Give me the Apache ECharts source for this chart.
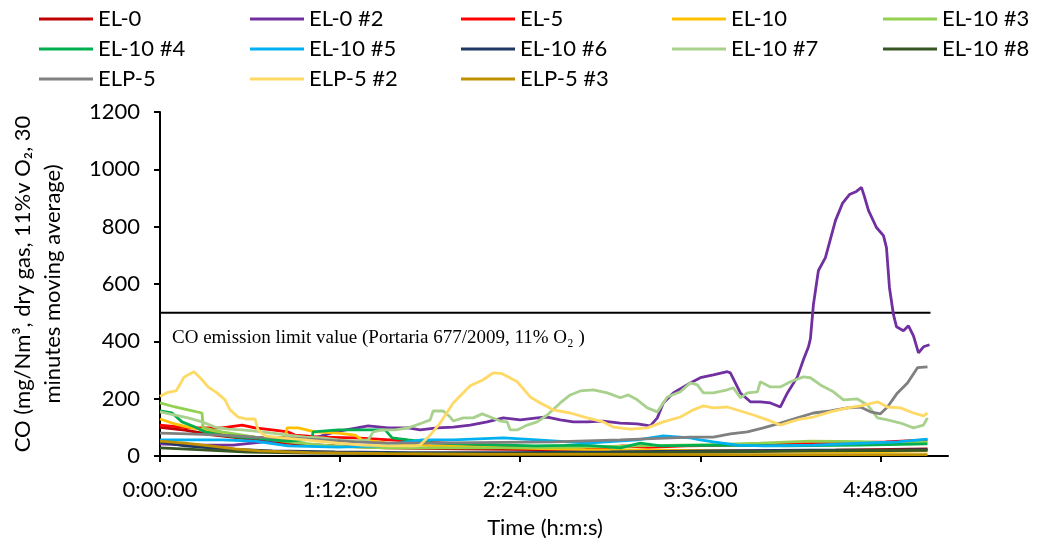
<!DOCTYPE html>
<html>
<head>
<meta charset="utf-8">
<script src="https://cdn.jsdelivr.net/npm/echarts@6/dist/echarts.min.js"></script>
<style>
  html, body { margin: 0; padding: 0; background: #fff; }
  #chart { width: 1037px; height: 545px; }
</style>
</head>
<body>
<div id="chart"></div>
<script>
// CO concentration, 30-minute moving average, per test run.
// Each point: [elapsed time in minutes, CO in mg/Nm3].
const EL_0 = [[0,100],[10,90],[20,75],[35,60],[50,45],[70,35],[90,28],[120,25],[150,22],[180,20],[210,18],[240,18],[270,20],[306.8,25]];
const EL_0_2 = [[0,42],[11.2,38],[29.2,38],[49.2,56],[58.8,66],[62,63],[70,84],[83.2,105],[91.2,98],[99.2,98],[104,91],[110.8,98],[117.2,101],[124,108],[130.8,119],[137.2,133],[144,126],[150.8,133],[154.8,136],[160,126],[165.2,119],[170.8,119],[177.2,122],[184,115],[190.8,112],[196,105],[198.8,133],[201.2,185],[205.2,220],[212,255],[216,273],[221.2,283],[226.8,294],[228,290],[232,220],[236,189],[240,189],[244,185],[248,171],[250.8,220],[254.8,276],[257.2,336],[259.2,380],[260,409],[261.2,528],[263.2,647],[266,692],[270,821],[272.8,881],[275.6,912],[278.4,923],[280.4,937],[281.6,905],[283.2,857],[286.4,797],[289.2,769],[290.4,727],[291.6,587],[293.2,493],[294.4,451],[297.2,437],[299.2,454],[301.2,419],[303.2,360],[305.2,381],[307.6,388]];
const EL_5 = [[0,108],[11.2,98],[24.8,98],[32.8,108],[38,98],[44.8,91],[51.2,84],[54,73],[64,66],[78,63],[92,56],[104.8,49],[120,42],[140,35],[160,28],[175,25],[185,35],[195,30],[210,35],[230,38],[250,42],[270,45],[290,49],[306.8,56]];
const EL_10 = [[0,129],[4.8,115],[11.2,101],[18,91],[24.8,80],[31.2,73],[38,66],[44.8,63],[50,66],[50.8,98],[55.2,98],[62,84],[71.2,80],[78,73],[80.8,56],[91.2,45],[110,35],[140,28],[170,22],[200,20],[230,18],[260,15],[290,15],[306.8,18]];
const EL_10_3 = [[0,185],[6,171],[11.2,161],[16.8,150],[17.2,98],[24.8,84],[38,66],[51.2,49],[64.8,38],[78,31],[91.2,28],[106,28],[130,28],[160,30],[190,35],[220,40],[240,45],[260,52],[280,50],[295,45],[306.8,49]];
const EL_10_4 = [[0,157],[4.8,150],[8.8,119],[14,101],[18,84],[24.8,73],[31.2,66],[38,63],[44.8,56],[51.2,52],[58,56],[60.8,66],[61.2,84],[71.2,91],[84.8,91],[90,91],[92.8,63],[99.2,56],[110,45],[130,40],[150,35],[170,38],[184,28],[192,45],[200,35],[220,38],[250,35],[280,38],[306.8,42]];
const EL_10_5 = [[0,56],[24.8,56],[38,52],[51.2,35],[71.2,31],[88,35],[104.8,56],[117.2,56],[137.2,63],[150.8,56],[170.8,45],[190.8,56],[201.2,70],[212,63],[216,56],[221.2,49],[230.8,38],[241.2,35],[261.2,38],[281.2,45],[294.8,49],[306.8,59]];
const EL_10_6 = [[0,49],[10,35],[25,25],[45,18],[70,14],[100,12],[140,12],[180,14],[220,18],[260,20],[290,20],[306.8,22]];
const EL_10_7 = [[0,154],[6,143],[11.2,133],[16.8,119],[22,101],[27.2,94],[32.8,91],[38,87],[44.8,80],[51.2,73],[58,66],[64.8,63],[71.2,56],[78,52],[83.2,56],[85.2,84],[88.8,91],[94,91],[99.2,98],[104.8,115],[108,126],[109.2,157],[113.2,157],[116,136],[117.2,122],[121.2,133],[125.2,133],[128.8,147],[132,136],[136,122],[138.8,119],[140,91],[142.8,91],[146.8,108],[150.8,119],[154.8,143],[160,185],[164,213],[168,227],[173.2,231],[178.8,220],[184,203],[187.2,213],[190.8,196],[194.8,168],[198.8,154],[202.8,206],[208,224],[212,255],[214.8,248],[217.2,220],[221.2,220],[226.8,231],[229.2,238],[232,203],[234.8,220],[238.8,224],[240,259],[244,241],[248,241],[252,259],[257.2,276],[260,273],[264,248],[269.2,224],[273.2,196],[278.8,199],[282.8,178],[286.8,133],[290.8,126],[296,115],[301.2,98],[305.2,108],[306.8,133]];
const EL_10_8 = [[0,28],[15,22],[35,14],[60,10],[100,8],[140,8],[180,10],[220,14],[260,18],[306.8,20]];
const ELP_5 = [[0,80],[11.2,77],[24.8,73],[38,66],[51.2,63],[64.8,56],[78,49],[91.2,45],[106,45],[157.2,49],[184,56],[212,66],[221.2,66],[228,77],[234.8,84],[241.2,98],[248,115],[254.8,133],[261.2,150],[268,157],[274.8,168],[280,171],[284,154],[288,147],[290.8,171],[294.8,220],[298.8,255],[302.8,308],[306.8,311]];
const ELP_5_2 = [[0,208],[3.2,222],[6.4,227],[8,250],[9.6,275],[11.2,283],[13.6,294],[16.8,266],[19.2,241],[22.8,220],[26,196],[28,161],[31.2,136],[34.8,129],[38,129],[39.2,91],[42,70],[48.8,63],[58,56],[71.2,45],[80.8,38],[91.2,35],[102,35],[104,38],[108,73],[112,115],[117.2,185],[124,245],[129.2,266],[133.2,290],[136.8,287],[142.8,259],[148,206],[152,185],[157.2,161],[164,150],[170.8,133],[177.2,119],[181.2,101],[188,94],[194.8,98],[201.2,119],[208,136],[213.2,161],[217.2,175],[221.2,168],[226.8,171],[232,157],[237.2,143],[242.8,126],[248,108],[252,119],[256,129],[261.2,136],[268,154],[274.8,168],[280,175],[286.8,189],[290.8,171],[296,168],[301.2,150],[305.2,140],[306.8,150]];
const ELP_5_3 = [[0,52],[10,45],[20,35],[30,25],[40,18],[60,12],[90,8],[130,6],[180,6],[230,5],[280,5],[306.8,5]];

// Emission limit value (Portaria 677/2009) and time span it is drawn over
const LIMIT_VALUE = 500;
const LIMIT_SPAN = [0, 308];

const seriesNames = ['EL-0','EL-0 #2','EL-5','EL-10','EL-10 #3','EL-10 #4','EL-10 #5','EL-10 #6','EL-10 #7','EL-10 #8','ELP-5','ELP-5 #2','ELP-5 #3'];
const seriesData = [EL_0, EL_0_2, EL_5, EL_10, EL_10_3, EL_10_4, EL_10_5, EL_10_6, EL_10_7, EL_10_8, ELP_5, ELP_5_2, ELP_5_3];
const seriesColors = ['#C00000','#7030A0','#FF0000','#FFC000','#92D050','#00B050','#00B0F0','#203864','#A9D18E','#375623','#808080','#FFD966','#BF9000'];

// Time ticks every 1:12:00
const timeTicks = [0, 72, 144, 216, 288];

const FONT = 'Lato, "Open Sans", sans-serif';

function hms(min) {
  const totalSec = Math.round(min * 60);
  const h = Math.floor(totalSec / 3600);
  const m = Math.floor((totalSec % 3600) / 60);
  const s = totalSec % 60;
  return h + ':' + String(m).padStart(2, '0') + ':' + String(s).padStart(2, '0');
}

// Legend laid out in five columns
const legendCols = [[0, 5, 10], [1, 6, 11], [2, 7, 12], [3, 8], [4, 9]];
const legendLefts = [39, 250, 461, 672, 883];
const legends = legendCols.map((col, i) => ({
  orient: 'vertical',
  left: legendLefts[i],
  top: 8,
  padding: 0,
  icon: 'rect',
  itemWidth: 54,
  itemHeight: 3,
  itemGap: 8,
  selectedMode: false,
  data: col.map(k => seriesNames[k]),
  textStyle: { fontFamily: FONT, fontSize: 22, color: '#000', lineHeight: 22 }
}));

const series = seriesNames.map((name, i) => ({
  name: name,
  type: 'line',
  data: seriesData[i],
  symbol: 'none',
  smooth: false,
  color: seriesColors[i],
  lineStyle: { width: 2.8, color: seriesColors[i] },
  z: 3
}));

series.push({
  name: 'limit',
  type: 'line',
  data: [[LIMIT_SPAN[0], LIMIT_VALUE], [LIMIT_SPAN[1], LIMIT_VALUE]],
  symbol: 'none',
  color: '#000',
  lineStyle: { width: 2, color: '#000' },
  z: 2
});

const chart = echarts.init(document.getElementById('chart'), null, { renderer: 'canvas' });
chart.setOption({
  animation: false,
  backgroundColor: '#fff',
  legend: legends,
  grid: { left: 160, right: 89, top: 112, bottom: 89, containLabel: false },
  xAxis: {
    type: 'value',
    min: 0,
    max: 315,
    name: 'Time (h:m:s)',
    nameLocation: 'middle',
    nameGap: 61,
    nameTextStyle: { fontFamily: FONT, fontSize: 22, color: '#000', padding: [0, 18, 0, 0] },
    axisLine: { show: true, lineStyle: { color: '#000', width: 2 } },
    axisTick: { show: true, inside: false, length: 6, customValues: timeTicks, lineStyle: { color: '#000', width: 2 } },
    axisLabel: { customValues: timeTicks, formatter: v => hms(v), fontFamily: FONT, fontSize: 22, color: '#000', margin: 23 },
    splitLine: { show: false }
  },
  yAxis: {
    type: 'value',
    min: 0,
    max: 1200,
    interval: 200,
    name: 'CO (mg/Nm\u00B3, dry gas, 11%v O\u2082, 30\nminutes moving average)',
    nameLocation: 'middle',
    nameGap: 92,
    nameRotate: 90,
    nameTextStyle: { fontFamily: FONT, fontSize: 22, color: '#000', lineHeight: 30 },
    axisLine: { show: true, lineStyle: { color: '#000', width: 2 } },
    axisTick: { show: true, inside: false, length: 6, lineStyle: { color: '#000', width: 2 } },
    axisLabel: { formatter: v => String(v), fontFamily: FONT, fontSize: 22, color: '#000', margin: 20 },
    splitLine: { show: false }
  },
  series: series
});

// Caption under the limit line, anchored at its start
const anchor = chart.convertToPixel({ gridIndex: 0 }, [LIMIT_SPAN[0], LIMIT_VALUE]);
chart.setOption({
  graphic: [{
    type: 'text',
    left: anchor[0] + 12,
    top: anchor[1] + 16,
    style: {
      text: 'CO emission limit value (Portaria 677/2009, 11% O\u2082 )',
      font: '19px "Liberation Serif", "DejaVu Serif", serif',
      fill: '#000'
    }
  }]
});
</script>
</body>
</html>
